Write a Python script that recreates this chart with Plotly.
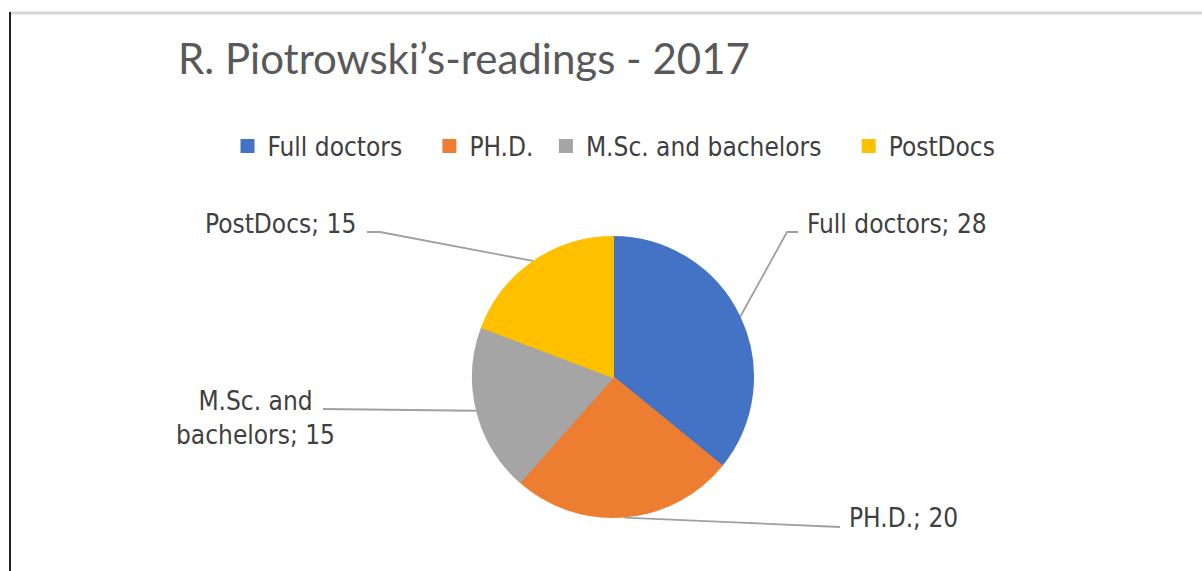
import math
import plotly.graph_objects as go

W, H = 1202, 571

# ---- data ----
categories = ["Full doctors", "PH.D.", "M.Sc. and bachelors", "PostDocs"]
values = [28, 20, 15, 15]
label_names = ["Full doctors", "PH.D.", "M.Sc. and<br>bachelors", "PostDocs"]
colors = ["#4472C4", "#ED7D31", "#A5A5A5", "#FFC000"]
title_text = "R. Piotrowski’s-readings - 2017"

# ---- layout helpers ----
def px(x):
    return x / W


def py(y):
    return 1 - y / H


CX, CY, R = 613, 377, 141
LABEL_FONT = "Liberation Sans Narrow, DejaVu Sans Condensed, Liberation Sans, sans-serif"

# extra spacing after each legend entry (non-breaking spaces)
legend_pad = [3, 1, 3, 0]
legend_labels = [c + "\u00a0" * n for c, n in zip(categories, legend_pad)]

# label placement (pixels): text anchor, alignment, leader elbow points
label_layout = [
    dict(x=805, y=224, xanchor="left", elbow=[(787, 232), (798, 232)]),
    dict(x=847, y=518, xanchor="left", elbow=[(840, 527)]),
    dict(x=255, y=418, xanchor="center", elbow=[(323, 409)]),
    dict(x=358, y=224, xanchor="right", elbow=[(380, 232), (367, 232)]),
]

fig = go.Figure(
    go.Pie(
        labels=legend_labels,
        values=values,
        marker=dict(colors=colors, line=dict(color=colors, width=2)),
        sort=False,
        direction="clockwise",
        rotation=0,
        textinfo="none",
        hoverinfo="label+value",
        domain=dict(x=[px(CX - R + 1), px(CX + R - 1)], y=[py(CY + R - 1), py(CY - R + 1)]),
    )
)

total = sum(values)
cum = 0
shapes = []
annotations = []
for name, v, lay in zip(label_names, values, label_layout):
    mid = (cum + v / 2) / total * 2 * math.pi
    cum += v
    ex = CX + R * math.sin(mid)
    ey = CY - R * math.cos(mid)
    pts = [(ex, ey)] + lay["elbow"]
    path = "M " + " L ".join(f"{px(a)},{py(b)}" for a, b in pts)
    shapes.append(dict(type="path", xref="paper", yref="paper", path=path,
                       line=dict(color="#A0A0A0", width=1.8)))
    annotations.append(dict(
        x=px(lay["x"]), y=py(lay["y"]), xref="paper", yref="paper",
        xanchor=lay["xanchor"], yanchor="middle", align="center",
        text=f"{name}; {v}", showarrow=False,
        font=dict(family=LABEL_FONT, size=26, color="#404040"),
    ))

# frame lines
shapes.append(dict(type="line", xref="paper", yref="paper", x0=px(10), x1=1, y0=py(13), y1=py(13),
                   line=dict(color="#D6D6D6", width=3)))
shapes.append(dict(type="line", xref="paper", yref="paper", x0=px(10), x1=px(10), y0=py(12), y1=0,
                   line=dict(color="#222222", width=2)))

fig.update_layout(
    width=W, height=H, autosize=False,
    margin=dict(l=0, r=0, t=0, b=0),
    paper_bgcolor="white", plot_bgcolor="white",
    title=dict(text=title_text, x=px(178), xanchor="left", y=py(59), yanchor="middle",
               font=dict(family="Lato, Liberation Sans, sans-serif", size=42, color="#595959")),
    legend=dict(orientation="h", x=px(614), xanchor="center", y=py(146), yanchor="middle",
                font=dict(family=LABEL_FONT, size=26, color="#404040"),
                traceorder="normal"),
    shapes=shapes,
    annotations=annotations,
)

fig.write_html("out.html", config={"displayModeBar": False},
               post_script="document.body.style.margin='0';document.body.style.overflow='hidden';")
